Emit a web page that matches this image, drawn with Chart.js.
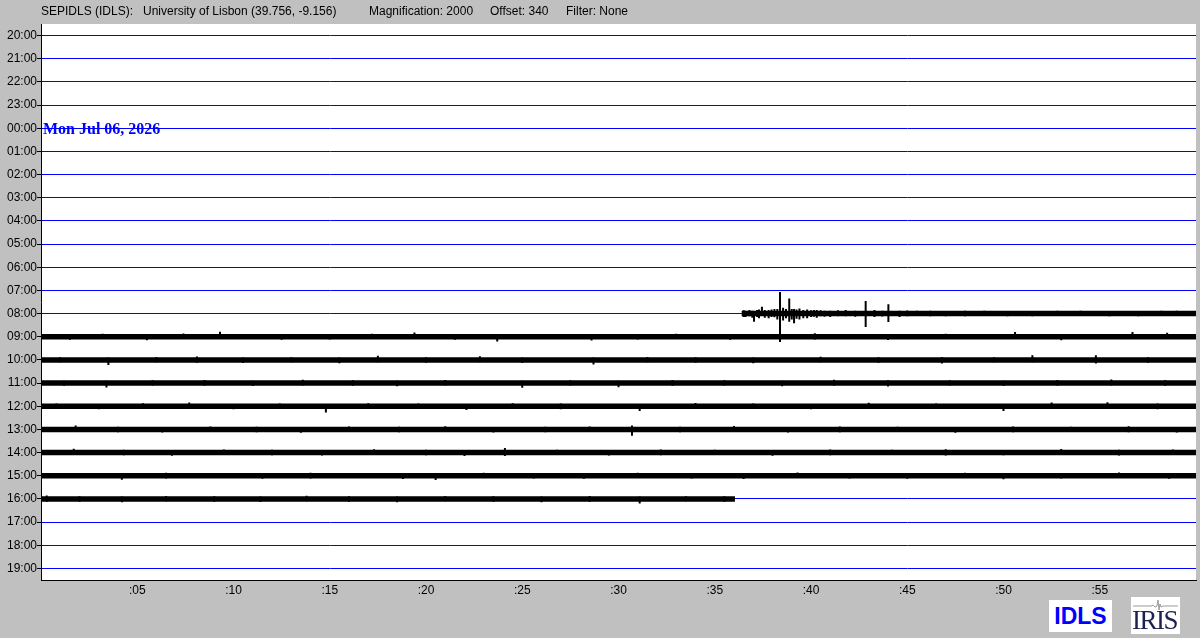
<!DOCTYPE html>
<html>
<head>
<meta charset="utf-8">
<script src="https://cdn.jsdelivr.net/npm/chart.js@4.4.1/dist/chart.umd.min.js"></script>
<style>
  html, body { margin: 0; padding: 0; background: #c0c0c0; }
  #wrap { position: relative; width: 1200px; height: 638px; overflow: hidden; font-family: 'Liberation Sans', Arial, sans-serif; }
  #heli { position: absolute; left: 0; top: 0; }
  .hdr { position: absolute; top: 3px; font-size: 12px; line-height: 16px; color: #000; white-space: pre; }
  #idls { position: absolute; left: 1049px; top: 600px; width: 63px; height: 32px; background: #fff; color: #0000ff;
          font: bold 23px 'Liberation Sans', Arial, sans-serif; text-align: center; line-height: 33px; }
  #iris { position: absolute; left: 1131px; top: 597px; width: 49px; height: 37px; background: #fff; overflow: hidden; }
  #iris svg { position: absolute; left: 2px; top: 3px; }
  #iris span { position: absolute; left: 1px; top: 9px; font: 27px 'Liberation Serif', 'Times New Roman', serif;
               color: #1c2150; letter-spacing: -1.5px; line-height: 28px; }
</style>
</head>
<body>
<div id="wrap">
  <canvas id="heli" width="1200" height="638"></canvas>
  <div class="hdr" id="h1" style="left:41px"></div>
  <div class="hdr" id="h2" style="left:143px"></div>
  <div class="hdr" id="h3" style="left:369px"></div>
  <div class="hdr" id="h4" style="left:490px"></div>
  <div class="hdr" id="h5" style="left:566px"></div>
  <div id="idls">IDLS</div>
  <div id="iris">
    <svg width="45" height="10"><polyline points="0,6 18,6 20,5 22,7 24,6 25,0 26,10 27,4 28,7 30,6 45,6" fill="none" stroke="#9a9a9a" stroke-width="1"/></svg>
    <span>IRIS</span>
  </div>
</div>
<script>
// header
const stationName = 'SEPIDLS (IDLS):';
const siteName = 'University of Lisbon (39.756, -9.156)';
const magnification = 2000;
const offsetValue = 340;
const filterName = 'None';
const dateLabel = 'Mon Jul 06, 2026';
const dateHour = '00:00';

// rows, top to bottom
const hourLabels = ['20:00', '21:00', '22:00', '23:00', '00:00', '01:00', '02:00', '03:00',
                    '04:00', '05:00', '06:00', '07:00', '08:00', '09:00', '10:00', '11:00',
                    '12:00', '13:00', '14:00', '15:00', '16:00', '17:00', '18:00', '19:00'];
const minuteTicks = [5, 10, 15, 20, 25, 30, 35, 40, 45, 50, 55];
const minuteLabels = [':05', ':10', ':15', ':20', ':25', ':30', ':35', ':40', ':45', ':50', ':55'];

// rows with signal, and where the signal starts / stops (minutes)
const traceHours = ['08:00', '09:00', '10:00', '11:00', '12:00', '13:00', '14:00', '15:00', '16:00'];
const traceStart = [36.4, 0, 0, 0, 0, 0, 0, 0, 0];
const traceEnd = [60, 60, 60, 60, 60, 60, 60, 60, 36.05];

// peaks on each trace: [minute, up, down] in row heights
const spikes08 = [[36.5, 0.14, 0.15], [36.6, 0.12, 0.15], [36.8, 0.15, 0.12], [36.95, 0.12, 0.18], [37.04, 0.1, 0.35],
  [37.2, 0.15, 0.15], [37.3, 0.18, 0.2], [37.45, 0.29, 0.1], [37.6, 0.16, 0.18], [37.8, 0.15, 0.2], [37.95, 0.18, 0.15],
  [38.1, 0.2, 0.16], [38.25, 0.2, 0.25], [38.39, 0.93, 1.23], [38.55, 0.25, 0.3], [38.7, 0.2, 0.2], [38.87, 0.65, 0.35],
  [39.0, 0.2, 0.25], [39.12, 0.2, 0.42], [39.25, 0.18, 0.22], [39.4, 0.22, 0.25], [39.6, 0.15, 0.2], [39.8, 0.18, 0.2],
  [40.0, 0.14, 0.15], [40.15, 0.16, 0.14], [40.3, 0.15, 0.18], [40.5, 0.14, 0.12], [40.7, 0.12, 0.14], [41.0, 0.12, 0.15],
  [41.4, 0.14, 0.12], [41.8, 0.15, 0.12], [42.3, 0.12, 0.14], [42.84, 0.54, 0.58], [43.3, 0.15, 0.15], [43.7, 0.12, 0.13],
  [44.02, 0.4, 0.36], [44.6, 0.12, 0.15], [45.0, 0.13, 0.12], [45.5, 0.12, 0.1], [46.2, 0.12, 0.12], [47.0, 0.1, 0.12],
  [48.0, 0.12, 0.12], [49.0, 0.12, 0.1], [50.2, 0.1, 0.12], [51.5, 0.1, 0.12], [52.8, 0.12, 0.1], [54.0, 0.12, 0.1],
  [55.5, 0.11, 0.12], [57.0, 0.1, 0.12], [58.2, 0.12, 0.1], [59.0, 0.12, 0.1]];
const spikes09 = [[1.5, 0.1, 0.13], [3.2, 0.13, 0.1], [5.5, 0.1, 0.15], [7.4, 0.14, 0.1], [9.3, 0.22, 0.1], [12.5, 0.12, 0.13],
  [15.0, 0.1, 0.12], [17.2, 0.13, 0.1], [19.4, 0.18, 0.1], [21.5, 0.1, 0.13], [23.7, 0.1, 0.2], [26.0, 0.12, 0.1],
  [28.6, 0.1, 0.16], [31.0, 0.12, 0.12], [33.0, 0.13, 0.1], [35.8, 0.1, 0.13], [40.2, 0.15, 0.12], [44.0, 0.12, 0.14],
  [47.0, 0.13, 0.1], [50.6, 0.2, 0.1], [53.0, 0.12, 0.15], [56.7, 0.2, 0.1], [58.5, 0.17, 0.1]];
const spikes10 = [[1.0, 0.12, 0.1], [3.5, 0.1, 0.22], [6.0, 0.13, 0.1], [8.1, 0.15, 0.12], [10.5, 0.1, 0.13], [13.0, 0.12, 0.1],
  [15.5, 0.1, 0.14], [17.5, 0.18, 0.1], [20.0, 0.12, 0.12], [22.8, 0.16, 0.1], [25.0, 0.1, 0.13], [28.7, 0.1, 0.2],
  [31.5, 0.13, 0.1], [34.0, 0.12, 0.12], [37.0, 0.1, 0.14], [40.5, 0.14, 0.1], [43.5, 0.12, 0.12], [46.8, 0.13, 0.15],
  [49.5, 0.12, 0.1], [51.5, 0.2, 0.1], [54.8, 0.2, 0.15], [57.5, 0.12, 0.12]];
const spikes11 = [[1.2, 0.1, 0.12], [3.4, 0.1, 0.19], [5.8, 0.12, 0.1], [8.5, 0.13, 0.12], [11.0, 0.1, 0.13], [13.6, 0.14, 0.1],
  [16.2, 0.12, 0.12], [18.5, 0.1, 0.14], [21.0, 0.13, 0.1], [25.0, 0.1, 0.2], [27.5, 0.12, 0.1], [30.0, 0.1, 0.18],
  [32.8, 0.13, 0.12], [35.5, 0.12, 0.1], [38.5, 0.1, 0.14], [41.2, 0.14, 0.12], [44.0, 0.12, 0.15], [47.2, 0.12, 0.1],
  [50.0, 0.1, 0.13], [52.8, 0.13, 0.12], [55.6, 0.16, 0.1], [58.4, 0.12, 0.12]];
const spikes12 = [[0.8, 0.12, 0.1], [3.0, 0.1, 0.13], [5.3, 0.13, 0.12], [7.7, 0.16, 0.1], [10.0, 0.1, 0.13], [12.4, 0.12, 0.12],
  [14.8, 0.1, 0.27], [17.0, 0.13, 0.1], [19.6, 0.12, 0.12], [22.1, 0.1, 0.16], [24.5, 0.13, 0.1], [27.0, 0.12, 0.13],
  [29.4, 0.1, 0.12], [31.1, 0.1, 0.2], [34.0, 0.14, 0.12], [37.0, 0.12, 0.1], [40.0, 0.1, 0.13], [43.0, 0.15, 0.12],
  [46.5, 0.12, 0.1], [50.0, 0.1, 0.2], [52.5, 0.16, 0.12], [55.4, 0.17, 0.1], [58.0, 0.12, 0.13]];
const spikes13 = [[1.8, 0.17, 0.1], [4.0, 0.12, 0.12], [6.3, 0.1, 0.13], [8.8, 0.13, 0.1], [11.2, 0.12, 0.12], [13.5, 0.1, 0.14],
  [16.0, 0.13, 0.1], [18.6, 0.12, 0.12], [21.0, 0.14, 0.1], [23.5, 0.1, 0.13], [26.2, 0.12, 0.12], [28.5, 0.13, 0.1],
  [30.7, 0.17, 0.27], [33.2, 0.12, 0.12], [36.0, 0.15, 0.1], [38.8, 0.1, 0.13], [41.5, 0.13, 0.12], [44.5, 0.12, 0.1],
  [47.5, 0.1, 0.14], [50.5, 0.13, 0.12], [53.5, 0.12, 0.1], [56.5, 0.14, 0.12], [59.0, 0.1, 0.13]];
const spikes14 = [[1.7, 0.17, 0.1], [4.3, 0.12, 0.12], [6.8, 0.1, 0.14], [9.5, 0.13, 0.1], [12.0, 0.12, 0.12], [14.6, 0.1, 0.13],
  [17.3, 0.14, 0.1], [20.0, 0.12, 0.12], [22.0, 0.1, 0.15], [24.1, 0.2, 0.15], [26.8, 0.12, 0.1], [29.5, 0.1, 0.13],
  [32.2, 0.13, 0.12], [35.0, 0.12, 0.1], [38.0, 0.1, 0.14], [41.0, 0.13, 0.12], [44.2, 0.12, 0.1], [47.0, 0.14, 0.13],
  [50.0, 0.1, 0.12], [53.0, 0.15, 0.1], [56.0, 0.12, 0.13], [58.8, 0.13, 0.1]];
const spikes15 = [[1.3, 0.12, 0.1], [4.2, 0.1, 0.17], [6.5, 0.13, 0.12], [9.0, 0.12, 0.1], [11.5, 0.1, 0.13], [14.0, 0.13, 0.12],
  [16.6, 0.12, 0.1], [18.8, 0.1, 0.14], [20.5, 0.1, 0.18], [23.0, 0.13, 0.1], [25.6, 0.12, 0.12], [28.2, 0.1, 0.13],
  [31.0, 0.13, 0.1], [33.8, 0.12, 0.12], [36.5, 0.1, 0.14], [39.3, 0.14, 0.1], [42.0, 0.12, 0.12], [45.0, 0.1, 0.13],
  [48.0, 0.13, 0.1], [50.0, 0.1, 0.15], [53.0, 0.12, 0.12], [56.0, 0.14, 0.1], [58.6, 0.12, 0.13]];
const spikes16 = [[0.3, 0.15, 0.12], [2.0, 0.12, 0.12], [4.2, 0.1, 0.14], [6.5, 0.13, 0.1], [9.0, 0.12, 0.12], [11.4, 0.1, 0.13],
  [13.8, 0.14, 0.1], [16.0, 0.12, 0.12], [18.5, 0.1, 0.14], [21.0, 0.13, 0.1], [23.5, 0.12, 0.12], [26.0, 0.1, 0.14],
  [28.5, 0.13, 0.12], [31.1, 0.1, 0.2], [33.5, 0.12, 0.1], [35.5, 0.12, 0.12]];

const traceSpikes = [spikes08, spikes09, spikes10, spikes11, spikes12, spikes13, spikes14, spikes15, spikes16];

document.getElementById('h1').textContent = stationName;
document.getElementById('h2').textContent = siteName;
document.getElementById('h3').textContent = 'Magnification: ' + magnification;
document.getElementById('h4').textContent = 'Offset: ' + offsetValue;
document.getElementById('h5').textContent = 'Filter: ' + filterName;

const datasets = [];
traceHours.forEach((h, i) => {
    const row = hourLabels.indexOf(h);
    datasets.push({
        data: [{x: traceStart[i], y: row}, {x: traceEnd[i], y: row}],
        borderColor: '#000', borderWidth: 5.5, pointRadius: 0
    });
    const pts = [];
    traceSpikes[i].forEach(s => {
        pts.push({x: s[0], y: row - s[1]}, {x: s[0], y: row + s[2]}, {x: s[0], y: null});
    });
    datasets.push({data: pts, borderColor: '#000', borderWidth: 2, pointRadius: 0, spanGaps: false});
});

const sansFont = {family: "'Liberation Sans', Arial, sans-serif", size: 12};

const heliPlugin = {
    id: 'heli',
    beforeDraw(chart) {
        const {ctx, chartArea: a} = chart;
        ctx.save();
        ctx.fillStyle = '#fff';
        ctx.fillRect(a.left, a.top, a.right - a.left, a.bottom - a.top);
        ctx.restore();
    },
    afterDraw(chart) {
        const {ctx, chartArea: a, scales: {y}} = chart;
        ctx.save();
        ctx.font = "bold 16px 'Liberation Serif', 'Times New Roman', serif";
        ctx.fillStyle = '#0000ff';
        ctx.textBaseline = 'alphabetic';
        ctx.fillText(dateLabel, a.left + 2, y.getPixelForValue(hourLabels.indexOf(dateHour)) + 6);
        ctx.restore();
    }
};

// eslint-disable-next-line no-undef
new Chart(document.getElementById('heli'), {
    type: 'line',
    data: {datasets: datasets},
    plugins: [heliPlugin],
    options: {
        responsive: false,
        animation: false,
        devicePixelRatio: 1,
        layout: {padding: {top: 24, right: 4, bottom: 0, left: 0}},
        plugins: {legend: {display: false}, tooltip: {enabled: false}},
        scales: {
            x: {
                type: 'linear', min: 0, max: 60,
                afterBuildTicks: s => { s.ticks = minuteTicks.map(v => ({value: v})); },
                afterFit: s => { s.height = 58; },
                grid: {display: false, drawTicks: false},
                border: {display: true, color: '#000', width: 1},
                ticks: {
                    font: sansFont, color: '#000', padding: 3, maxRotation: 0, autoSkip: false,
                    callback: v => minuteLabels[minuteTicks.indexOf(v)]
                }
            },
            y: {
                type: 'linear', min: -0.5, max: 23.5, reverse: true,
                afterBuildTicks: s => { s.ticks = hourLabels.map((h, i) => ({value: i})); },
                afterFit: s => { s.width = 41; },
                grid: {color: '#0000ff', lineWidth: 1, tickColor: '#000', tickLength: 4, drawTicks: true},
                border: {display: true, color: '#000', width: 1},
                ticks: {font: sansFont, color: '#000', padding: 0, autoSkip: false, callback: v => hourLabels[v]}
            }
        }
    }
});
</script>
</body>
</html>
